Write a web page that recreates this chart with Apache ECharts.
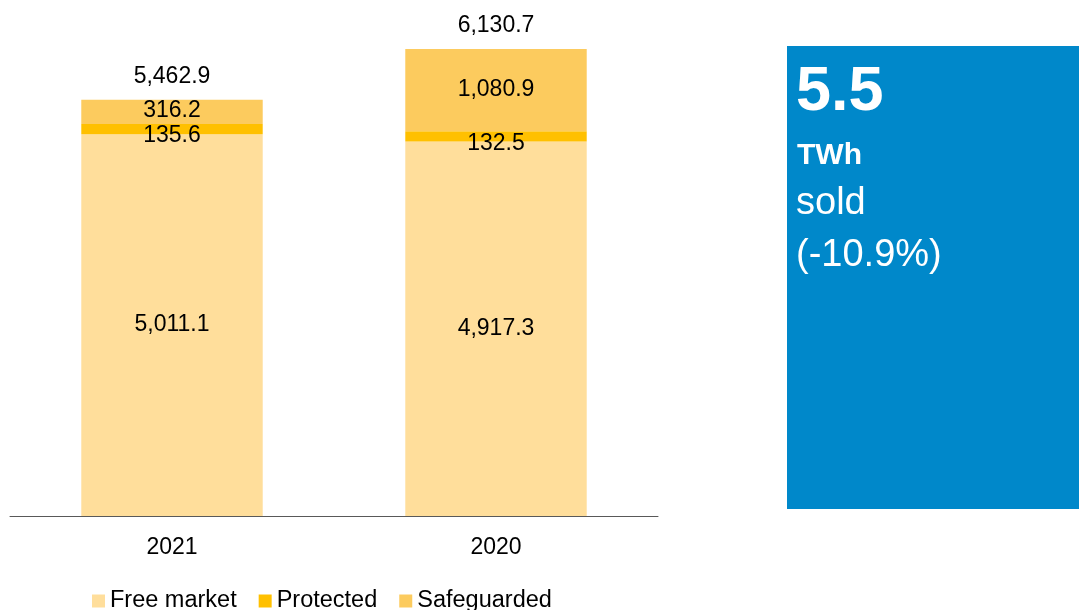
<!DOCTYPE html>
<html>
<head>
<meta charset="utf-8">
<script src="https://cdn.jsdelivr.net/npm/echarts@6/dist/echarts.min.js"></script>
<style>
html,body{margin:0;padding:0;background:#fff;}
#chart{width:1079px;height:610px;}
</style>
</head>
<body>
<div id="chart"></div>
<script>
const categories = ['2021', '2020'];
const freeMarket = [5011.1, 4917.3];
const protectedVals = [135.6, 132.5];
const safeguarded = [316.2, 1080.9];
const seriesNames = ['Free market', 'Protected', 'Safeguarded'];
const totals = categories.map((c, i) => +(freeMarket[i] + protectedVals[i] + safeguarded[i]).toFixed(1));

const FONT = '"Liberation Sans", Arial, sans-serif';
const FS = 23;
const fmt = v => Number(v).toLocaleString('en-US', {minimumFractionDigits: 1, maximumFractionDigits: 1});

const chart = echarts.init(document.getElementById('chart'), null, {renderer: 'canvas'});

function segLabel(offsetY) {
  return {
    show: true, position: 'inside', color: '#000', fontSize: FS, fontFamily: FONT,
    offset: [0, offsetY], formatter: p => fmt(p.value)
  };
}

function barSeries(name, data, color, offsetY) {
  return {
    name: name, type: 'bar', stack: 'total', data: data, barWidth: '56%',
    itemStyle: {color: color}, label: segLabel(offsetY), emphasis: {disabled: true}
  };
}

chart.setOption({
  animation: false,
  textStyle: {fontFamily: FONT},
  grid: {left: 10, right: 421, top: 49, bottom: 94, containLabel: false},
  legend: {
    data: seriesNames, left: 87, top: 584, itemWidth: 13, itemHeight: 13, itemGap: 22,
    icon: 'rect',
    textStyle: {fontSize: 23.5, color: '#000', fontFamily: FONT}
  },
  xAxis: {
    type: 'category', data: categories,
    axisLine: {lineStyle: {color: '#595959', width: 1}},
    axisTick: {show: false},
    axisLabel: {color: '#000', fontSize: FS, fontFamily: FONT, margin: 20}
  },
  yAxis: {
    type: 'value', min: 0, max: Math.max(...totals),
    show: false, splitLine: {show: false}
  },
  series: [
    barSeries(seriesNames[0], freeMarket, '#FFDE9B', 0),
    barSeries(seriesNames[1], protectedVals, '#FFC000', 7),
    barSeries(seriesNames[2], safeguarded, '#FCCB5E', -1),
    {
      name: 'Total', type: 'scatter', data: totals, symbolSize: 0.01,
      itemStyle: {color: '#000', opacity: 1},
      label: {show: true, position: 'top', distance: 12, color: '#000', fontSize: FS, fontFamily: FONT,
        formatter: p => fmt(p.value)},
      emphasis: {disabled: true}, z: 5
    }
  ],
  graphic: [
    {type: 'rect', left: 787, top: 46, shape: {width: 292, height: 463}, style: {fill: '#0088CA'}, silent: true},
    {type: 'text', left: 796, top: 61, style: {text: '5.5', fill: '#fff', font: 'bold 63px ' + FONT}},
    {type: 'text', left: 797, top: 141, style: {text: 'TWh', fill: '#fff', font: 'bold 30px ' + FONT}},
    {type: 'text', left: 796, top: 185, style: {text: 'sold', fill: '#fff', font: '38px ' + FONT}},
    {type: 'text', left: 796, top: 237, style: {text: '(-10.9%)', fill: '#fff', font: '38px ' + FONT}}
  ]
});
</script>
</body>
</html>
